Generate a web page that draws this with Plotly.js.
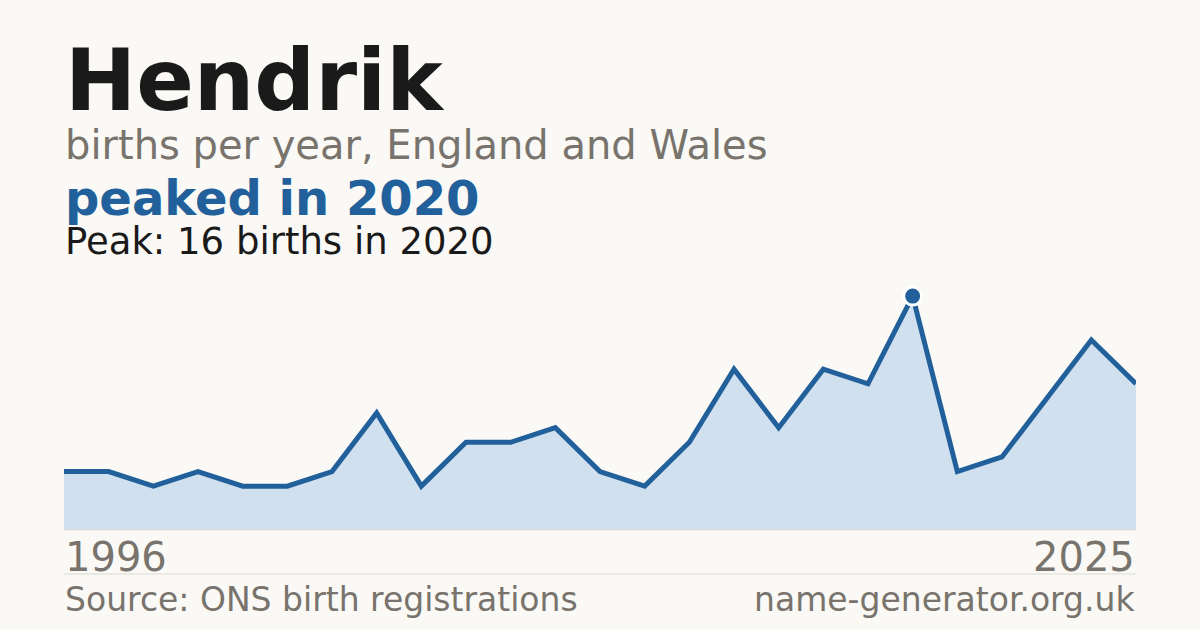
<!DOCTYPE html>
<html>
<head>
<meta charset="utf-8">
<script src="https://cdn.plot.ly/plotly-3.0.1.min.js"></script>
<style>
  html, body { margin: 0; padding: 0; background: #faf9f5; }
  #chart { width: 1200px; height: 630px; }
</style>
</head>
<body>
<div id="chart"></div>
<script>
// births per year (years with too few registrations are not listed)
var years = ['1996','1997','1998','1999','2000','2001','2002','2004','2005','2006',
             '2008','2009','2010','2012','2013','2014','2016','2017','2018','2020',
             '2021','2022','2023','2024','2025'];
var births = [4, 4, 3, 4, 3, 3, 4, 8, 3, 6,
              6, 7, 4, 3, 6, 11, 7, 11, 10, 16,
              4, 5, 9, 13, 10];

var name = 'Hendrik';
var subtitle = 'births per year, England and Wales';
var source = 'Source: ONS birth registrations';
var site = 'name-generator.org.uk';

var blue = '#21609a';
var grey = '#78736c';
var font = 'DejaVu Sans, sans-serif';

// find the peak
var peakIdx = 0;
for (var i = 1; i < births.length; i++) {
  if (births[i] > births[peakIdx]) peakIdx = i;
}
var peakYear = years[peakIdx];
var peakVal = births[peakIdx];

// plot area is 280..530 px high, so paper y = (530 - px) / 250
function py(px) { return (530 - px) / 250; }

var area = {
  x: years, y: births,
  type: 'scatter', mode: 'lines',
  fill: 'tozeroy', fillcolor: '#d0e0ef',
  line: { color: blue, width: 5 },
  hoverinfo: 'skip'
};

var peak = {
  x: [peakYear], y: [peakVal],
  type: 'scatter', mode: 'markers',
  marker: { color: blue, size: 18, line: { color: '#ffffff', width: 3 } },
  hoverinfo: 'skip'
};

function note(text, x, xanchor, top, size, color, bold) {
  return {
    text: bold ? '<b>' + text + '</b>' : text,
    xref: 'paper', yref: 'paper',
    x: x, xanchor: xanchor,
    y: py(top), yanchor: 'top',
    showarrow: false, borderpad: 0,
    font: { family: font, size: size, color: color }
  };
}

var layout = {
  width: 1200, height: 630,
  margin: { l: 64, r: 64, t: 280, b: 100 },
  paper_bgcolor: '#faf9f5',
  plot_bgcolor: 'rgba(0,0,0,0)',
  showlegend: false,
  xaxis: {
    type: 'category', range: [0, years.length - 1],
    showgrid: false, zeroline: false, showticklabels: false, ticks: '',
    showline: false, fixedrange: true
  },
  yaxis: {
    range: [0, 17.1],
    showgrid: false, zeroline: false, showticklabels: false, ticks: '',
    showline: false, fixedrange: true
  },
  shapes: [
    { type: 'line', xref: 'paper', yref: 'paper', x0: 0, x1: 1, y0: py(574), y1: py(574),
      line: { color: '#dcd9d2', width: 1 } },
    { type: 'line', xref: 'paper', yref: 'paper', x0: 0, x1: 1, y0: 0, y1: 0,
      line: { color: '#e4dfd4', width: 1 } }
  ],
  annotations: [
    note(name, 0, 'left', 30, 85, '#1a1a1a', true),
    note(subtitle, 0, 'left', 121, 40, grey, false),
    note('peaked in ' + peakYear, 0, 'left', 169, 48, blue, true),
    note('Peak: ' + peakVal + ' births in ' + peakYear, 0, 'left', 219, 37, '#1a1a1a', false),
    note(years[0], 0, 'left', 533, 40, grey, false),
    note(years[years.length - 1], 1, 'right', 533, 40, grey, false),
    note(source, 0, 'left', 579, 33, grey, false),
    note(site, 1, 'right', 579, 33, grey, false)
  ]
};

Plotly.newPlot('chart', [area, peak], layout, { displayModeBar: false, staticPlot: true });
</script>
</body>
</html>
